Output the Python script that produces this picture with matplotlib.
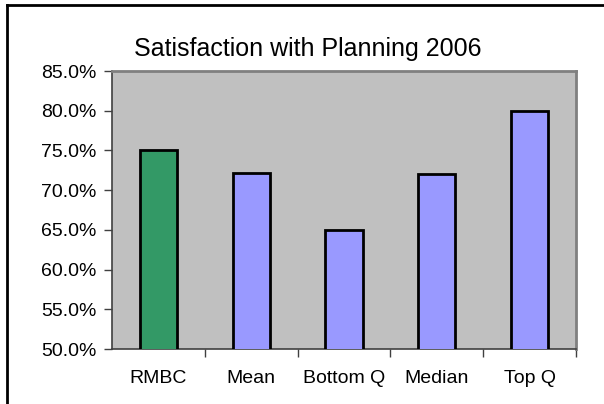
import matplotlib.pyplot as plt
from matplotlib.ticker import FuncFormatter

plt.rcParams['font.family'] = ['Liberation Sans', 'DejaVu Sans']

categories = ['RMBC', 'Mean', 'Bottom Q', 'Median', 'Top Q']
satisfaction = [75.0, 72.2, 65.0, 72.0, 80.0]
bar_colors = ['#339966', '#9999FF', '#9999FF', '#9999FF', '#9999FF']
y_ticks = [50, 55, 60, 65, 70, 75, 80, 85]

fig = plt.figure(figsize=(6.04, 4.04), dpi=100)
fig.patch.set_facecolor('white')

# chart frame (only left and top edges fall inside the image)
fig.add_artist(plt.Line2D([0.012, 0.012], [0, 0.988], color='black', lw=2,
                          transform=fig.transFigure))
fig.add_artist(plt.Line2D([0.011, 1.0], [0.988, 0.988], color='black', lw=2,
                          transform=fig.transFigure))

W, H = 604, 404
ax = fig.add_axes([112 / W, 1 - 349 / H, (576 - 112) / W, (349 - 71) / H])
ax.set_facecolor('#C0C0C0')

x = range(len(categories))
ax.bar(x, satisfaction, width=0.4, color=bar_colors, edgecolor='black',
       linewidth=2, zorder=3)

ax.set_xlim(-0.5, len(categories) - 0.5)
ax.set_ylim(50, 85)
ax.set_yticks(y_ticks)
ax.yaxis.set_major_formatter(FuncFormatter(lambda v, p: f'{v:.1f}%'))

# boundary ticks between categories, labels centred under the bars
ax.set_xticks([i + 0.5 for i in range(len(categories) - 1)] + [len(categories) - 0.5])
ax.set_xticklabels([])
ax.set_xticks(list(x), minor=True)
ax.set_xticklabels(categories, minor=True)
ax.tick_params(axis='x', which='minor', length=0, pad=15, labelsize=14)
ax.tick_params(axis='x', which='major', length=6, width=1, color='#404040')
ax.tick_params(axis='y', length=6, width=1, pad=5, labelsize=14,
               color='#404040')

for side in ['top', 'right']:
    ax.spines[side].set_color('#808080')
    ax.spines[side].set_linewidth(2)
for side in ['left', 'bottom']:
    ax.spines[side].set_color('#404040')
    ax.spines[side].set_linewidth(1.2)

fig.text(308 / W, 1 - 49 / H, 'Satisfaction with Planning 2006',
         ha='center', va='center', fontsize=18)

fig.savefig('out.png', dpi=100)
